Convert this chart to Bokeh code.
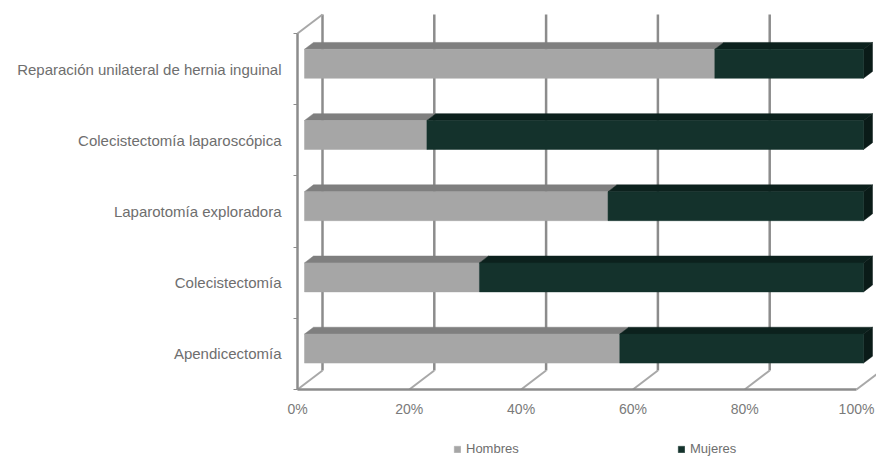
from bokeh.plotting import figure
from bokeh.models import Range1d, FixedTicker, NumeralTickFormatter, Legend, LegendItem
from bokeh.embed import file_html
from bokeh.resources import INLINE

# ---- data ----
categories = ["Apendicectomía", "Colecistectomía", "Laparotomía exploradora",
              "Colecistectomía laparoscópica", "Reparación unilateral de hernia inguinal"]
hombres = [56.4, 31.3, 54.3, 21.9, 73.4]
mujeres = [43.6, 68.7, 45.7, 78.1, 26.6]
x_ticks = [0, 20, 40, 60, 80, 100]

# ---- geometry (pixels -> data units) ----
W, H = 876, 457
X0, Y0 = 297, 389     # canvas position of the front-plane origin
PX_X = 559.0          # px per 100 %
PX_Y = 71.2           # px per category
DX = 25 / PX_X        # depth vector of the 3D box
DY = 19 / PX_Y
F0, F1 = 0.28, 0.64   # bar front / back depth fraction
BAR_H = 29 / PX_Y
n = len(categories)

p = figure(width=W, height=H, output_backend="svg", toolbar_location=None,
           x_range=Range1d(-X0 / PX_X, (W - X0) / PX_X),
           y_range=Range1d(-(H - Y0) / PX_Y, Y0 / PX_Y),
           min_border=0)
p.outline_line_color = None
p.grid.visible = False
p.background_fill_color = "white"
p.border_fill_color = "white"

GRID = "#8c8c8c"
FLOOR = "#a8a8a8"
xs = [t / 100 for t in x_ticks]
# back wall gridlines
p.segment(x0=[x + DX for x in xs], y0=[DY] * len(xs), x1=[x + DX for x in xs], y1=[n + DY] * len(xs),
          line_color=GRID, line_width=2.5)
# floor diagonals
p.segment(x0=xs, y0=[0] * len(xs), x1=[x + DX for x in xs], y1=[DY] * len(xs),
          line_color=FLOOR, line_width=2)
# top-left wall diagonal
p.segment(x0=[0], y0=[n], x1=[DX], y1=[n + DY], line_color=FLOOR, line_width=2)
# front axis lines
p.segment(x0=[0], y0=[0], x1=[0], y1=[n], line_color=GRID, line_width=2.5)
p.segment(x0=[0], y0=[0], x1=[1], y1=[0], line_color=GRID, line_width=2.5)

# ---- bars ----
cen = [i + 0.5 for i in range(n)]
yc = [c + F0 * DY for c in cen]
h_l = [0.0] * n
h_r = [v / 100 for v in hombres]
m_l = h_r
m_r = [(a + b) / 100 for a, b in zip(hombres, mujeres)]

def top_face(l, r, c):
    yt = c + BAR_H / 2
    return ([l + F0 * DX, r + F0 * DX, r + F1 * DX, l + F1 * DX],
            [yt + F0 * DY, yt + F0 * DY, yt + F1 * DY, yt + F1 * DY])

def side_face(r, c):
    yb, yt = c - BAR_H / 2, c + BAR_H / 2
    return ([r + F0 * DX, r + F1 * DX, r + F1 * DX, r + F0 * DX],
            [yb + F0 * DY, yb + F1 * DY, yt + F1 * DY, yt + F0 * DY])

H_FRONT, H_TOP = "#a6a6a6", "#7f7f7f"
M_FRONT, M_TOP, M_SIDE = "#14322c", "#0c211d", "#0a1b18"

ht = [top_face(l, r, c) for l, r, c in zip(h_l, h_r, cen)]
p.patches(xs=[t[0] for t in ht], ys=[t[1] for t in ht], fill_color=H_TOP, line_color=H_TOP, line_width=0.5)
rh = p.hbar(y=yc, left=[v + F0 * DX for v in h_l], right=[v + F0 * DX for v in h_r], height=BAR_H,
            fill_color=H_FRONT, line_color=H_FRONT, line_width=0.5)

mt = [top_face(l, r, c) for l, r, c in zip(m_l, m_r, cen)]
p.patches(xs=[t[0] for t in mt], ys=[t[1] for t in mt], fill_color=M_TOP, line_color=M_TOP, line_width=0.5)
ms = [side_face(r, c) for r, c in zip(m_r, cen)]
p.patches(xs=[t[0] for t in ms], ys=[t[1] for t in ms], fill_color=M_SIDE, line_color=M_SIDE, line_width=0.5)
rm = p.hbar(y=yc, left=[v + F0 * DX for v in m_l], right=[v + F0 * DX for v in m_r], height=BAR_H,
            fill_color=M_FRONT, line_color=M_FRONT, line_width=0.5)

# ---- axes ----
FONT = "Liberation Sans"
TXT = "#6e6e6e"
yax = p.yaxis[0]
yax.fixed_location = 0
yax.ticker = FixedTicker(ticks=cen, minor_ticks=list(range(n + 1)))
yax.major_label_overrides = {c: lab for c, lab in zip(cen, categories)}
yax.axis_line_color = None
yax.major_tick_line_color = None
yax.minor_tick_in = 0
yax.minor_tick_out = 4
yax.minor_tick_line_color = GRID
yax.major_label_standoff = 10
yax.major_label_text_font = FONT
yax.major_label_text_font_size = "15px"
yax.major_label_text_color = TXT

xax = p.xaxis[0]
xax.fixed_location = 0
xax.ticker = FixedTicker(ticks=xs)
xax.formatter = NumeralTickFormatter(format="0%")
xax.axis_line_color = None
xax.major_tick_line_color = None
xax.minor_tick_line_color = None
xax.major_label_standoff = 5
xax.major_label_text_font = FONT
xax.major_label_text_font_size = "14px"
xax.major_label_text_color = "#7a7a7a"

# ---- legend ----
def make_legend(label, rend, xpos):
    lg = Legend(items=[LegendItem(label=label, renderers=[rend])], location=(xpos, 1),
                orientation="horizontal", border_line_color=None, background_fill_alpha=0,
                padding=0, margin=0, spacing=0, glyph_width=8, glyph_height=8, label_height=12,
                label_standoff=5, label_text_font=FONT, label_text_font_size="13px",
                label_text_color=TXT)
    p.add_layout(lg)

make_legend("Hombres", rh, 453)
make_legend("Mujeres", rm, 677)

open("out.html", "w").write(file_html(p, INLINE))
